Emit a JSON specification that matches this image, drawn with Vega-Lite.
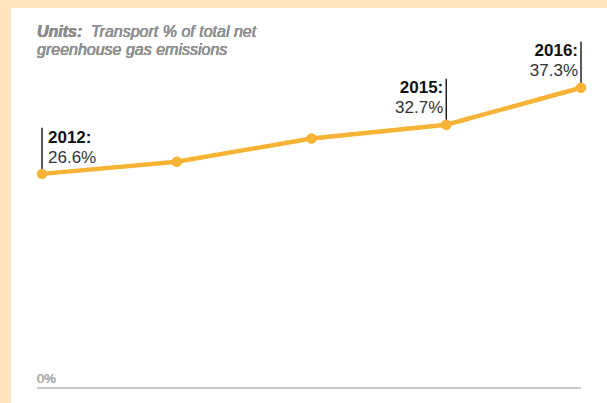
{
  "$schema": "https://vega.github.io/schema/vega-lite/v6.json",
  "width": 539,
  "height": 322,
  "autosize": {"type": "none"},
  "padding": {"left": 42, "top": 66, "right": 26, "bottom": 15},
  "background": "#fde6bd",
  "config": {"view": {"stroke": null}, "font": "Liberation Sans"},
  "datasets": {
    "series": [
      {"year": 2012, "value": 26.6},
      {"year": 2013, "value": 28.1},
      {"year": 2014, "value": 31.0},
      {"year": 2015, "value": 32.7},
      {"year": 2016, "value": 37.3}
    ],
    "notes": [
      {"year": 2012, "value": 26.6, "label": "2012:", "pct": "26.6%", "side": "right"},
      {"year": 2015, "value": 32.7, "label": "2015:", "pct": "32.7%", "side": "left"},
      {"year": 2016, "value": 37.3, "label": "2016:", "pct": "37.3%", "side": "left"}
    ]
  },
  "data": {"name": "series"},
  "encoding": {
    "x": {"field": "year", "type": "quantitative", "scale": {"domain": [2012, 2016], "nice": false, "zero": false}, "axis": null},
    "y": {"field": "value", "type": "quantitative", "scale": {"domain": [0, 40], "nice": false}, "axis": null}
  },
  "layer": [
    {
      "mark": {"type": "rect", "fill": "#ffffff"},
      "encoding": {
        "x": {"datum": 2011.77, "type": "quantitative"},
        "x2": {"datum": 2016.25},
        "y": {"datum": 47.2, "type": "quantitative"},
        "y2": {"datum": -2.5}
      }
    },
    {
      "mark": {"type": "rule", "stroke": "#c8c8c8", "strokeWidth": 2, "xOffset": -5},
      "encoding": {
        "x": {"datum": 2012, "type": "quantitative"},
        "x2": {"datum": 2016},
        "y": {"datum": 0, "type": "quantitative"}
      }
    },
    {
      "mark": {"type": "text", "text": "0%", "align": "left", "baseline": "alphabetic", "dx": -5, "dy": -5, "fontSize": 13, "fill": "#b0b0b0"},
      "encoding": {
        "x": {"datum": 2012, "type": "quantitative"},
        "y": {"datum": 0, "type": "quantitative"}
      }
    },
    {
      "mark": {"type": "text", "text": "Units:", "align": "left", "baseline": "alphabetic", "dx": -5, "dy": -29, "fontSize": 16, "fontStyle": "italic", "fontWeight": "bold", "fill": "#8c8c8c"},
      "encoding": {
        "x": {"datum": 2012, "type": "quantitative"},
        "y": {"datum": 40, "type": "quantitative"}
      }
    },
    {
      "mark": {"type": "text", "text": "Transport % of total net", "align": "left", "baseline": "alphabetic", "dx": 49, "dy": -29, "fontSize": 16, "fontStyle": "italic", "fontWeight": "normal", "fill": "#909090"},
      "encoding": {
        "x": {"datum": 2012, "type": "quantitative"},
        "y": {"datum": 40, "type": "quantitative"}
      }
    },
    {
      "mark": {"type": "text", "text": "greenhouse gas emissions", "align": "left", "baseline": "alphabetic", "dx": -5, "dy": -11, "fontSize": 16, "fontStyle": "italic", "fontWeight": "normal", "fill": "#909090"},
      "encoding": {
        "x": {"datum": 2012, "type": "quantitative"},
        "y": {"datum": 40, "type": "quantitative"}
      }
    },
    {
      "data": {"name": "notes"},
      "mark": {"type": "rule", "stroke": "#222222", "strokeWidth": 1.5, "yOffset": -3, "y2Offset": -46},
      "encoding": {
        "y2": {"field": "value"}
      }
    },
    {
      "mark": {"type": "line", "stroke": "#f6b335", "strokeWidth": 4.5}
    },
    {
      "mark": {"type": "point", "filled": true, "fill": "#f6b335", "size": 110, "opacity": 1}
    },
    {
      "data": {"name": "notes"},
      "transform": [{"filter": "datum.side === 'right'"}],
      "layer": [
        {"mark": {"type": "text", "align": "left", "baseline": "alphabetic", "dx": 6, "dy": -31, "fontSize": 17, "fontWeight": "bold", "fill": "#111111"}, "encoding": {"text": {"field": "label"}}},
        {"mark": {"type": "text", "align": "left", "baseline": "alphabetic", "dx": 6, "dy": -11, "fontSize": 17, "fill": "#333333"}, "encoding": {"text": {"field": "pct"}}}
      ]
    },
    {
      "data": {"name": "notes"},
      "transform": [{"filter": "datum.side === 'left'"}],
      "layer": [
        {"mark": {"type": "text", "align": "right", "baseline": "alphabetic", "dx": -3, "dy": -32, "fontSize": 17, "fontWeight": "bold", "fill": "#111111"}, "encoding": {"text": {"field": "label"}}},
        {"mark": {"type": "text", "align": "right", "baseline": "alphabetic", "dx": -3, "dy": -12, "fontSize": 17, "fill": "#333333"}, "encoding": {"text": {"field": "pct"}}}
      ]
    }
  ]
}
